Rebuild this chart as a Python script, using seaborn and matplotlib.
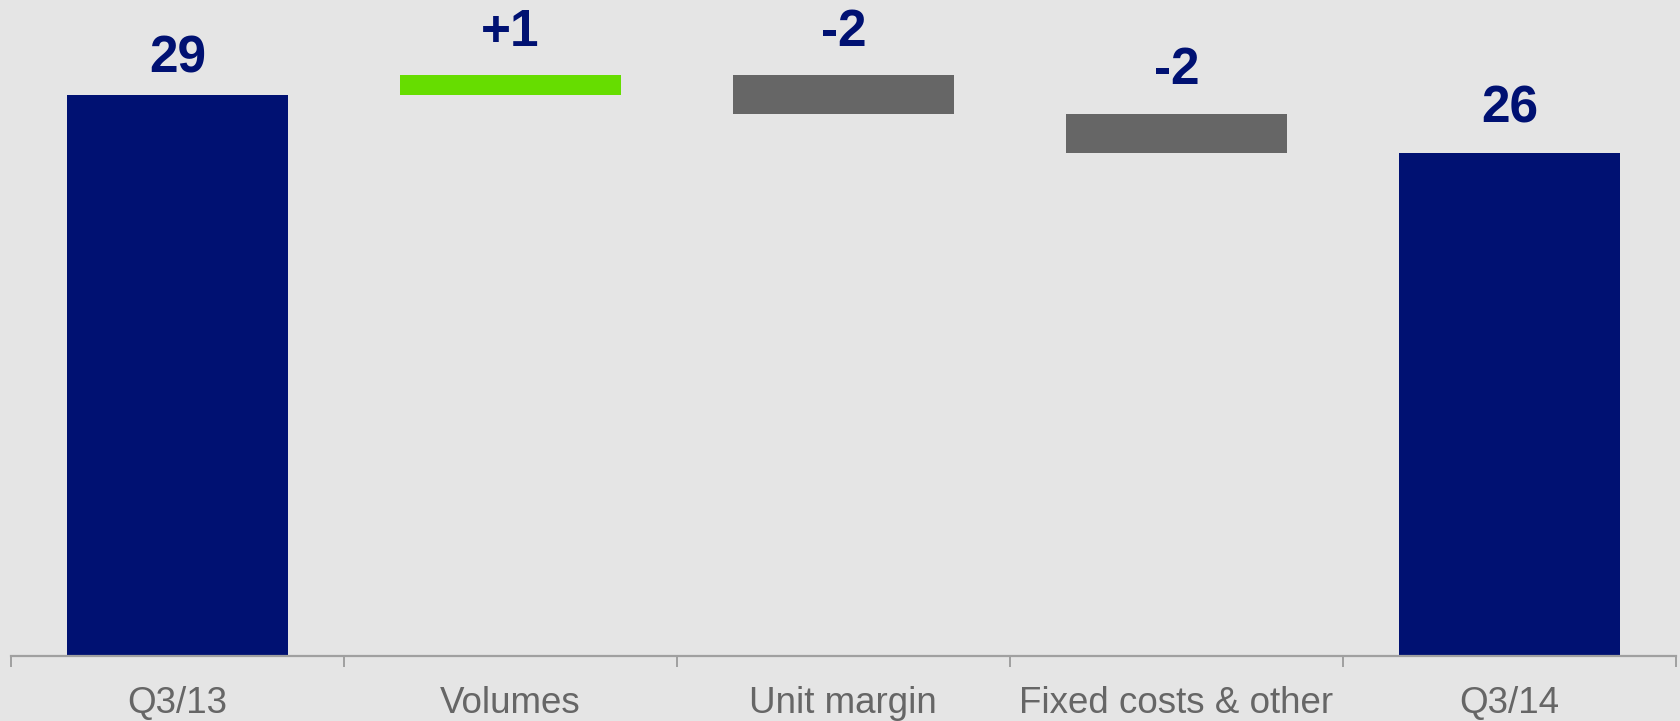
import matplotlib
matplotlib.use("Agg")
import matplotlib.pyplot as plt
import seaborn as sns
import numpy as np

# Waterfall: opening value, changes, closing value
categories = ["Q3/13", "Volumes", "Unit margin", "Fixed costs & other", "Q3/14"]
start_value = 29
changes = [1, -2, -2]
end_value = 26
value_labels = ["29", "+1", "-2", "-2", "26"]

NAVY = "#001172"
GREEN = "#66DD00"
GREY = "#666666"
BG = "#E5E5E5"

# vertical gap (points) between each bar top and its value label
label_gaps = [16, 21.5, 21.5, 21.5, 21.5]

sns.set_theme(style="white")
plt.rcParams["font.family"] = ["Liberation Sans", "DejaVu Sans"]

# Bar extents (bottom, height) built from the values
bottoms, heights, colors = [0], [start_value], [NAVY]
level = start_value
for d in changes:
    new_level = level + d
    bottoms.append(min(level, new_level))
    heights.append(abs(d))
    colors.append(GREEN if d > 0 else GREY)
    level = new_level
bottoms.append(0)
heights.append(end_value)
colors.append(NAVY)

fig = plt.figure(figsize=(16.81, 7.21), dpi=100, facecolor=BG)
ax = fig.add_axes([0.0064, 0.0905, 0.9906, 0.9095])
ax.set_facecolor(BG)

for cat, b, h, c in zip(categories, bottoms, heights, colors):
    sns.barplot(x=[cat], y=[h], bottom=b, color=c, order=categories,
                width=0.665, saturation=1, linewidth=0, ax=ax)

for i, (b, h, lab, gap) in enumerate(zip(bottoms, heights, value_labels, label_gaps)):
    ax.annotate(lab, xy=(i, b + h), xytext=(0, gap), textcoords="offset points",
                ha="center", va="baseline", fontsize=37, fontweight="bold",
                color=NAVY)

ax.set_xlim(-0.5, len(categories) - 0.5)
ax.set_ylim(0, 33.9)
ax.set_yticks([])
ax.set_xlabel("")
ax.set_ylabel("")

for side in ["top", "right", "left"]:
    ax.spines[side].set_visible(False)
ax.spines["bottom"].set_color("#A0A0A0")
ax.spines["bottom"].set_linewidth(1.6)

ax.set_xticks(np.arange(len(categories)))
ax.set_xticklabels(categories)
ax.set_xticks(np.arange(-0.5, len(categories)), minor=True)
ax.tick_params(axis="x", which="major", length=0, pad=22, labelsize=26.5,
               labelcolor="#666666")
ax.tick_params(axis="x", which="minor", length=8, width=1.4, color="#A0A0A0",
               bottom=True)

fig.savefig("out.png", dpi=100, facecolor=BG)
